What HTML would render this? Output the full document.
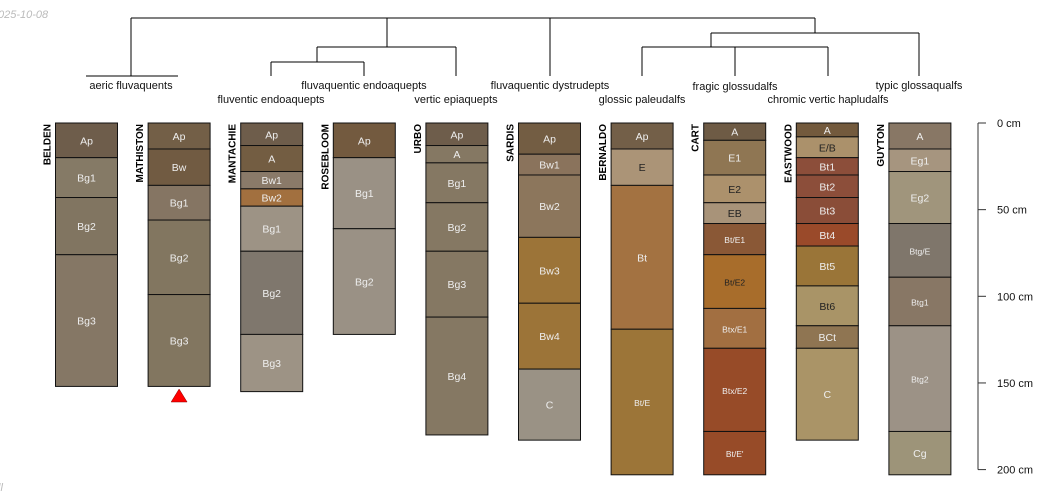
<!DOCTYPE html>
<html><head><meta charset="utf-8"><style>
body{margin:0;background:#fff;width:1050px;height:500px;overflow:hidden}
svg{display:block;font-family:"Liberation Sans",sans-serif}
</style></head><body>
<svg id="chart" width="1050" height="500" viewBox="0 0 1050 500">
<text x="-2" y="18" font-size="11" font-style="italic" fill="#bbb">025-10-08</text>
<text x="-2" y="491" font-size="11" font-style="italic" fill="#bbb">ll</text>
<g id="dendro" stroke="#000" stroke-width="1" fill="none">
<path d="M131 18H815M131 18V76M86 76H178M387 18V47M317 47H456M317 47V62M271 62H364M271 62V76M364 62V76M456 47V76M550 18V76M815 18V33M711 33H919M711 33V47M642 47H828M642 47V76M735 47V76M828 47V76M919 33V76"/>
</g>
<g font-size="11" fill="#111" text-anchor="middle">
<text x="131" y="89">aeric fluvaquents</text>
<text x="364" y="89">fluvaquentic endoaquepts</text>
<text x="271" y="103">fluventic endoaquepts</text>
<text x="456" y="103">vertic epiaquepts</text>
<text x="550" y="89">fluvaquentic dystrudepts</text>
<text x="642" y="103">glossic paleudalfs</text>
<text x="735" y="90">fragic glossudalfs</text>
<text x="828" y="103">chromic vertic hapludalfs</text>
<text x="919" y="89">typic glossaqualfs</text>
</g>
<g id="profiles"></g>
<g id="axis"></g>
</svg>
<script>
const profileNames=["BELDEN","MATHISTON","MANTACHIE","ROSEBLOOM","URBO","SARDIS","BERNALDO","CART","EASTWOOD","GUYTON"];
const horizonNames=[
["Ap","Bg1","Bg2","Bg3"],
["Ap","Bw","Bg1","Bg2","Bg3"],
["Ap","A","Bw1","Bw2","Bg1","Bg2","Bg3"],
["Ap","Bg1","Bg2"],
["Ap","A","Bg1","Bg2","Bg3","Bg4"],
["Ap","Bw1","Bw2","Bw3","Bw4","C"],
["Ap","E","Bt","Bt/E"],
["A","E1","E2","EB","Bt/E1","Bt/E2","Btx/E1","Btx/E2","Bt/E'"],
["A","E/B","Bt1","Bt2","Bt3","Bt4","Bt5","Bt6","BCt","C"],
["A","Eg1","Eg2","Btg/E","Btg1","Btg2","Cg"]];
const horizonBottoms=[
[20,43,76,152],
[15,36,56,99,152],
[13,28,38,48,74,122,155],
[20,61,122],
[13,23,46,74,112,180],
[18,30,66,104,142,183],
[15,36,119,203],
[10,30,46,58,76,107,130,178,203],
[8,20,30,43,58,71,94,117,130,183],
[15,28,58,89,117,178,203]];
const horizonColors=[
["#6e5d4b","#857a66","#817561","#857765"],
["#735f47","#715b42","#857563","#827660","#827660"],
["#6e5d4b","#735d42","#8a7a69","#a2703f","#9d9385","#7f776d","#9d9385"],
["#735a3f","#9a9185","#9a9185"],
["#6e5d4b","#857863","#857863","#857863","#857863","#857863"],
["#735d43","#8a735c","#8c765c","#9c7438","#9c7438","#9a9285"],
["#735f48","#ab9477","#a37241","#9c7538"],
["#6e5b45","#8f7653","#ac916c","#a89379","#8a5836","#a86d2b","#a26f41","#974b28","#974b28"],
["#735a3d","#ab916b","#8c4e3a","#8c4e3a","#8a4d38","#9a4a2a","#9a7538","#a99467","#8f7552","#aa9467"],
["#887765","#a6957f","#a0957c","#7f766b","#887765","#9c9286","#9d9479"]];
const darkText=["E","E2","EB","E/B","Bt6","Bt/E2"];
const smallText=["Bt/E","Bt/E1","Bt/E2","Btx/E1","Btx/E2","Bt/E'","Btg/E","Btg1","Btg2"];
const depthTicks=[0,50,100,150,200];
const NS="http://www.w3.org/2000/svg";
const y0=123, pxPerCm=1.733;
function yScale(d){return y0+d*pxPerCm;}
function xCenter(i){return 86.5+i*92.6;}
const W=62;
function mk(tag,attrs,parent){const e=document.createElementNS(NS,tag);for(const k in attrs)e.setAttribute(k,attrs[k]);parent.appendChild(e);return e;}
const pg=document.getElementById("profiles");
profileNames.forEach((name,i)=>{
  const g=mk("g",{},pg);
  
  
  const x=xCenter(i)-W/2;
  let top=0;
  horizonNames[i].forEach((h,j)=>{
    const bot=horizonBottoms[i][j];
    const r=mk("rect",{x:x,y:yScale(top),width:W,height:yScale(bot)-yScale(top),fill:horizonColors[i][j],stroke:"#111","stroke-width":1},g);
    
    
    const small=smallText.indexOf(h)>=0;
    const t=mk("text",{x:xCenter(i),y:(yScale(top)+yScale(bot))/2+4,"text-anchor":"middle","font-size":small?8.5:10.5,fill:darkText.indexOf(h)>=0?"#222":"#eee"},g);
    
    
    t.textContent=h;
    top=bot;
  });
  const n=mk("text",{transform:"translate("+(x-5)+","+(y0+1)+") rotate(-90)","text-anchor":"end","font-size":10,"font-weight":"bold",fill:"#000"},g);
  
  
  n.textContent=name;
});
const tri=mk("path",{d:"M"+(xCenter(1)-8)+" 402L"+xCenter(1)+" 389L"+(xCenter(1)+8)+" 402Z",fill:"#f00",stroke:"#800","stroke-width":0.5},pg);


const ag=document.getElementById("axis");


mk("line",{x1:978,y1:yScale(depthTicks[0]),x2:978,y2:yScale(depthTicks[depthTicks.length-1]),stroke:"#333"},ag);
depthTicks.forEach(d=>{
  mk("line",{x1:978,y1:yScale(d),x2:986,y2:yScale(d),stroke:"#333"},ag);
  const t=mk("text",{x:997,y:yScale(d)+4,"font-size":11,fill:"#111"},ag);
  
  
  t.textContent=d+" cm";
});
</script>
</body></html>
